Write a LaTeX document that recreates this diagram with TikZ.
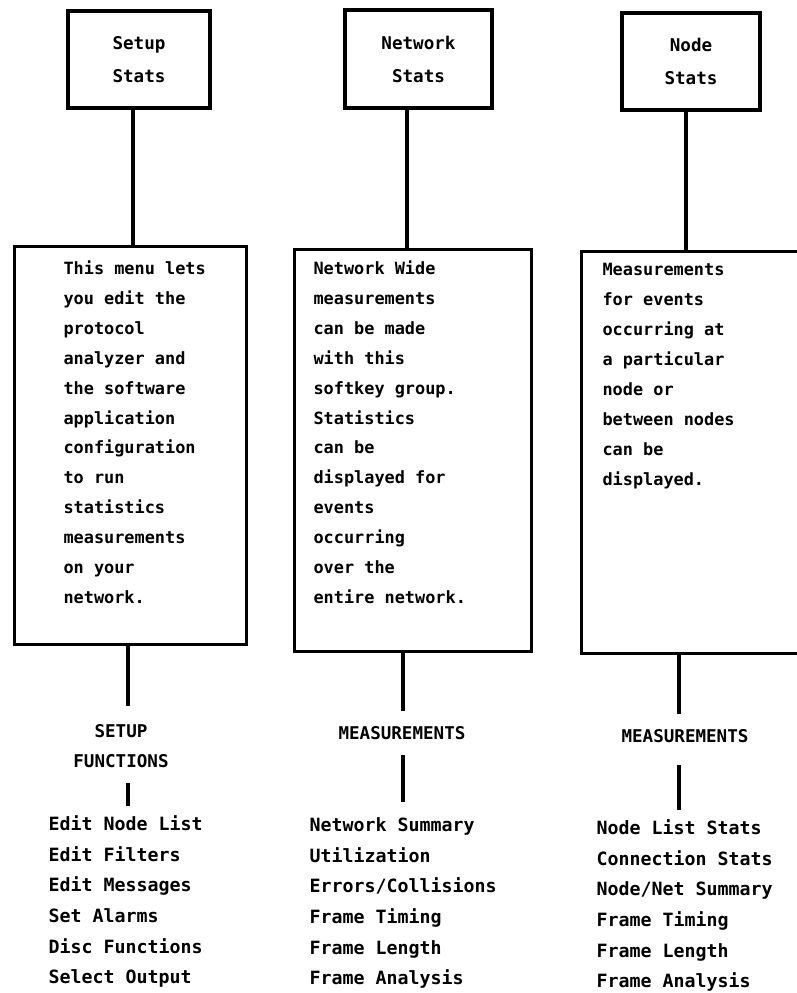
\documentclass[tikz,border=0pt]{standalone}
\usepackage{fontspec}
\setmonofont{DejaVu Sans Mono}
\usepackage{tikz}
\usetikzlibrary{positioning}
\usetikzlibrary{calc}

\begin{document}
\begin{tikzpicture}[x=0.025cm,y=-0.025cm,line width=2.2pt,
	font=\ttfamily\bfseries\fontsize{12.5}{23.4}\selectfont]
				% Styles for the boxes, the texts and the links.
				\tikzset{
					statbox/.style={draw,line width=2.2pt,align=center},
					dscbox/.style={draw,line width=2.2pt,anchor=north west},
					dsctext/.style={anchor=north west,align=left,inner sep=0pt,
						font=\ttfamily\bfseries\fontsize{12}{21.3}\selectfont},
					grplab/.style={anchor=north,align=center,inner sep=0pt,
						font=\ttfamily\bfseries\fontsize{12.5}{21.3}\selectfont},
					lsttext/.style={anchor=north west,align=left,inner sep=0pt,
						font=\ttfamily\bfseries\fontsize{13}{21.8}\selectfont},
					link/.style={line width=2.2pt}
				}
				\useasboundingbox (0,0) rectangle (796,993);
				
				% Columns of the vertical links.
				\coordinate (stop) at (133,0);
				\coordinate (ntop) at (407,0);
				\coordinate (dtop) at (686,0);
				\coordinate (sbar) at (128,0);
				\coordinate (nbar) at (403,0);
				\coordinate (dbar) at (679,0);
				
				% Top boxes.
				\node[statbox,minimum width=3.55cm,minimum height=2.425cm] (sbox) at (139,59.5) {Setup\\Stats};
				\node[statbox,minimum width=3.675cm,minimum height=2.45cm] (nbox) at (418.5,59) {Network\\Stats};
				\node[statbox,minimum width=3.45cm,minimum height=2.425cm] (dbox) at (691,61.5) {Node\\Stats};
				
				% Description boxes.
				\node[dscbox,minimum width=5.8cm,minimum height=9.95cm] (sdsc) at (13,245) {};
				\node[dscbox,minimum width=5.925cm,minimum height=10.05cm] (ndsc) at (293,248) {};
				\node[dscbox,minimum width=5.625cm,minimum height=10.05cm] (ddsc) at (580,250) {};
				
				\node[dsctext] (stxt) at (62,259) {This menu lets\\you edit the\\protocol\\analyzer and\\the software\\application\\configuration\\to run\\statistics\\measurements\\on your\\network.};
				\node[dsctext] (ntxt) at (312,259) {Network Wide\\measurements\\can be made\\with this\\softkey group.\\Statistics\\can be\\displayed for\\events\\occurring\\over the\\entire network.};
				\node[dsctext] (dtxt) at (601,262) {Measurements\\for events\\occurring at\\a particular\\node or\\between nodes\\can be\\displayed.};
				
				% Group labels.
				\node[grplab] (slab) at (121,723) {SETUP\\FUNCTIONS};
				\node[grplab] (nlab) at (402,725) {MEASUREMENTS};
				\node[grplab] (dlab) at (685,728) {MEASUREMENTS};
				
				% Lists of softkeys.
				\node[lsttext] (slst) at (47,814) {Edit Node List\\Edit Filters\\Edit Messages\\Set Alarms\\Disc Functions\\Select Output};
				\node[lsttext] (nlst) at (308,816) {Network Summary\\Utilization\\Errors/Collisions\\Frame Timing\\Frame Length\\Frame Analysis};
				\node[lsttext] (dlst) at (595,818) {Node List Stats\\Connection Stats\\Node/Net Summary\\Frame Timing\\Frame Length\\Frame Analysis};
				
				% Links.
				\draw[link] (stop |- sbox.south) -- (stop |- sdsc.north);
				\draw[link] (ntop |- nbox.south) -- (ntop |- ndsc.north);
				\draw[link] (dtop |- dbox.south) -- (dtop |- ddsc.north);
				
				\draw[link,shorten >=12pt] (sbar |- sdsc.south) -- (sbar |- slab.north);
				\draw[link,shorten >=10pt] (nbar |- ndsc.south) -- (nbar |- nlab.north);
				\draw[link,shorten >=10pt] (dbar |- ddsc.south) -- (dbar |- dlab.north);
				
				\draw[link,shorten <=10pt,shorten >=6pt] (sbar |- slab.south) -- (sbar |- slst.north);
				\draw[link,shorten <=10pt,shorten >=10pt] (nbar |- nlab.south) -- (nbar |- nlst.north);
				\draw[link,shorten <=15pt,shorten >=6pt] (dbar |- dlab.south) -- (dbar |- dlst.north);
				
\end{tikzpicture}
\end{document}
